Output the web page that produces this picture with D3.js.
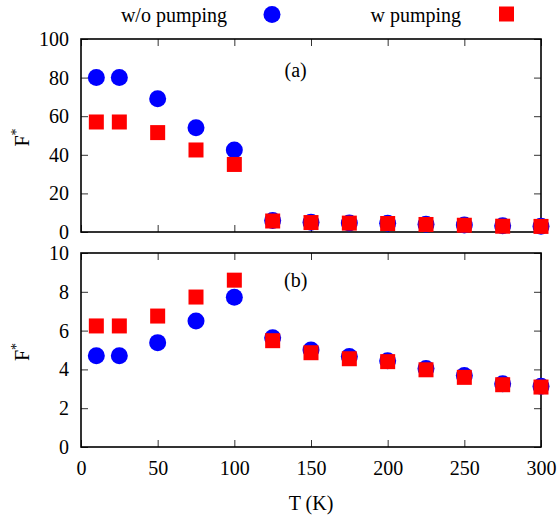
<!DOCTYPE html>
<html>
<head>
<meta charset="utf-8">
<script src="https://cdn.jsdelivr.net/npm/d3@7"></script>
<style>
  body { margin: 0; background: #fff; }
</style>
</head>
<body>
<svg id="chart" width="560" height="519"></svg>
<script>
// temperatures (K)
const temps = [10, 25, 50, 75, 100, 125, 150, 175, 200, 225, 250, 275, 300];

// panel (a)
const topNoPump = [80, 80, 69, 54, 42.5, 5.9, 5.1, 4.7, 4.5, 4.0, 3.6, 3.2, 3.0];
const topPump = [57, 57, 51.5, 42.5, 35, 5.7, 4.9, 4.6, 4.4, 3.9, 3.5, 3.0, 2.9];

// panel (b)
const botNoPump = [4.7, 4.7, 5.38, 6.5, 7.72, 5.63, 5.0, 4.67, 4.45, 4.04, 3.68, 3.26, 3.13];
const botPump = [6.24, 6.24, 6.75, 7.73, 8.6, 5.48, 4.86, 4.55, 4.4, 3.98, 3.59, 3.21, 3.09];

const xTicks = [0, 50, 100, 150, 200, 250, 300];
const topTicks = [0, 20, 40, 60, 80, 100];
const botTicks = [0, 2, 4, 6, 8, 10];

const font = "Liberation Serif";
const svg = d3.select("#chart");
const left = 81, right = 541;
const x = d3.scaleLinear().domain([0, 300]).range([left, right]);

const panels = [
  { top: 39, bottom: 232, max: 100, ticks: topTicks, noPump: topNoPump, pump: topPump, tag: "(a)", tagY: 77, xLabels: false },
  { top: 253, bottom: 447, max: 10, ticks: botTicks, noPump: botNoPump, pump: botPump, tag: "(b)", tagY: 287, xLabels: true }
];

const tick = 7;
const circleR = 8.5;
const sq = 15;

panels.forEach(p => {
  const y = d3.scaleLinear().domain([0, p.max]).range([p.bottom, p.top]);
  const g = svg.append("g");

  // ticks on all four sides, pointing in
  const ax = (sel) => sel
    .call(s => s.select(".domain").remove())
    .call(s => s.selectAll("line").attr("stroke", "#333"))
    .call(s => s.selectAll("text").attr("fill", "#000"));

  g.append("g").attr("transform", `translate(${left},0)`)
    .call(d3.axisLeft(y).tickValues(p.ticks).tickSize(-tick).tickPadding(12)).call(ax);
  g.append("g").attr("transform", `translate(${right},0)`)
    .call(d3.axisRight(y).tickValues(p.ticks).tickSize(-tick).tickFormat("")).call(ax);
  g.append("g").attr("transform", `translate(0,${p.top})`)
    .call(d3.axisTop(x).tickValues(xTicks).tickSize(-tick).tickFormat("")).call(ax);
  g.append("g").attr("transform", `translate(0,${p.bottom})`)
    .call(d3.axisBottom(x).tickValues(xTicks).tickSize(-tick).tickPadding(14)
      .tickFormat(p.xLabels ? d3.format("d") : "")).call(ax);

  g.append("rect")
    .attr("x", left).attr("y", p.top)
    .attr("width", right - left).attr("height", p.bottom - p.top)
    .attr("fill", "none").attr("stroke", "#000").attr("stroke-width", 1.6);

  g.append("text")
    .attr("x", x(140)).attr("y", p.tagY)
    .attr("text-anchor", "middle")
    .text(p.tag);

  const lab = g.append("text")
    .attr("transform", `translate(29,${(p.top + p.bottom) / 2 + 2}) rotate(-90)`)
    .attr("text-anchor", "middle");
  lab.append("tspan").text("F");
  lab.append("tspan").attr("dy", -8).attr("class", "sup").text("*");

  g.append("g").selectAll("circle")
    .data(temps.map((t, i) => [t, p.noPump[i]]))
    .join("circle")
    .attr("cx", d => x(d[0])).attr("cy", d => y(d[1]))
    .attr("r", circleR).attr("fill", "#0000ff");

  g.append("g").selectAll("rect")
    .data(temps.map((t, i) => [t, p.pump[i]]))
    .join("rect")
    .attr("x", d => x(d[0]) - sq / 2).attr("y", d => y(d[1]) - sq / 2)
    .attr("width", sq).attr("height", sq).attr("fill", "#ff0000");
});

// x axis title
svg.append("text")
  .attr("x", (left + right) / 2).attr("y", 510)
  .attr("text-anchor", "middle")
  .text("T (K)");

// legend
const legend = svg.append("g");
legend.append("text").attr("x", 227).attr("y", 22).attr("text-anchor", "end").text("w/o pumping");
legend.append("circle").attr("cx", 272).attr("cy", 14.5).attr("r", circleR).attr("fill", "#0000ff");
legend.append("text").attr("x", 461).attr("y", 22).attr("text-anchor", "end").text("w pumping");
legend.append("rect").attr("x", 506.5 - sq / 2).attr("y", 14 - sq / 2).attr("width", sq).attr("height", sq).attr("fill", "#ff0000");

// one serif font for every label
svg.selectAll("text").attr("font-family", font).attr("font-size", 20)
  .style("font-family", font).style("font-size", "20px");
svg.selectAll("tspan.sup").style("font-size", "14px");
</script>
</body>
</html>
